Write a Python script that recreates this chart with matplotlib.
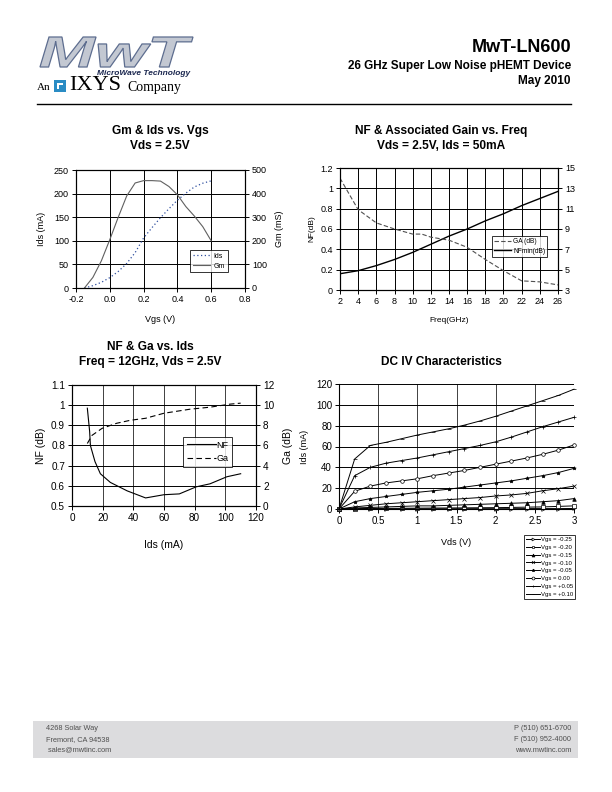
import matplotlib
matplotlib.use('Agg')
import matplotlib.pyplot as plt
from matplotlib.textpath import TextPath
from matplotlib.patches import PathPatch, Rectangle
from matplotlib.font_manager import FontProperties
from matplotlib.transforms import Affine2D

plt.rcParams['font.family'] = ['Liberation Sans', 'DejaVu Sans']

# ---------------- data ----------------
# Chart 1: Gm & Ids vs Vgs
vgs = [-0.15, -0.10, -0.05, 0.00, 0.05, 0.10, 0.15, 0.20, 0.25, 0.30, 0.35, 0.40, 0.45, 0.50, 0.55, 0.60]
ids_vs_vgs = [0, 5, 12, 22, 35, 52, 75, 106, 128, 149, 168, 186, 201, 214, 222, 227]
gm_vs_vgs = [0, 45, 115, 205, 300, 390, 445, 455, 455, 453, 430, 395, 345, 305, 260, 200]

# Chart 2: NF & Associated Gain vs Freq
freq = [2, 4, 6, 8, 10, 12, 14, 16, 18, 20, 22, 24, 26]
nfmin_freq = [0.16, 0.19, 0.24, 0.30, 0.37, 0.45, 0.53, 0.60, 0.68, 0.75, 0.83, 0.90, 0.97]
ga_freq_x = [2, 4, 6, 8, 10, 11, 12, 14, 16, 18, 20, 22, 24, 26]
ga_freq = [14.0, 10.9, 9.6, 9.0, 8.5, 8.5, 8.2, 7.9, 7.2, 6.0, 4.9, 3.9, 3.8, 3.5]

# Chart 3: NF & Ga vs Ids
ids_nf = [10, 11.5, 12, 15, 18.5, 25, 36, 48, 60, 70, 81, 90, 101, 110]
nf_ids = [0.985, 0.87, 0.80, 0.72, 0.66, 0.617, 0.575, 0.54, 0.556, 0.56, 0.595, 0.61, 0.645, 0.66]
ids_ga = [10, 13, 19.6, 29, 38, 48, 60, 77, 90, 103, 110]
ga_ids = [6.2, 7.0, 7.7, 8.2, 8.5, 8.7, 9.2, 9.6, 9.8, 10.1, 10.2]

# Chart 4: DC IV characteristics
vds = [0.0, 0.2, 0.4, 0.6, 0.8, 1.0, 1.2, 1.4, 1.6, 1.8, 2.0, 2.2, 2.4, 2.6, 2.8, 3.0]
iv_labels = ['Vgs = -0.25', 'Vgs = -0.20', 'Vgs = -0.15', 'Vgs = -0.10',
             'Vgs = -0.05', 'Vgs = 0.00', 'Vgs = +0.05', 'Vgs = +0.10']
iv_m025 = [0, 0.1, 0.1, 0.1, 0.2, 0.2, 0.2, 0.2, 0.3, 0.3, 0.3, 0.3, 0.4, 0.4, 0.4, 0.5]
iv_m020 = [0, 0.3, 0.5, 0.6, 0.7, 0.8, 0.9, 1.0, 1.1, 1.2, 1.3, 1.5, 1.8, 2.0, 2.5, 3.0]
iv_m015 = [0, 1, 1.5, 2, 2.5, 3, 3, 3.5, 4, 4.5, 5, 5.5, 6, 7, 8, 10]
iv_m010 = [0, 2, 3.5, 5, 6, 7, 8, 9, 10, 11, 12.5, 13.5, 15, 17.5, 19.5, 22]
iv_m005 = [0, 7, 10, 12, 14, 16, 17.5, 19, 21, 23, 25, 27, 29.5, 32, 35, 39]
iv_p000 = [0, 17, 22, 25, 27, 29, 32, 34.5, 37, 40, 43, 46, 49, 52.5, 56.5, 61.5]
iv_p005 = [0, 32, 40, 44, 46.5, 49, 52, 55, 58, 61, 64.5, 69, 74, 79, 83.5, 88]
iv_p010 = [0, 48, 61, 64, 67.5, 71, 74, 77, 80.5, 84.5, 89, 94, 99, 104, 109, 115]
iv_series = [iv_m025, iv_m020, iv_m015, iv_m010, iv_m005, iv_p000, iv_p005, iv_p010]
iv_markers = ['>', 's', '^', 'x', '*', 'o', '+', '_']
iv_filled = [False, False, True, True, True, False, True, True]

W, H = 612, 792
fig = plt.figure(figsize=(W / 100, H / 100), dpi=100)


def rect(l, r, t, b):
    return [l / W, 1 - b / H, (r - l) / W, (b - t) / H]


def fx(x):
    return x / W


def fy(y):
    return 1 - y / H


def style_axes(ax, tick_fs):
    for s in ax.spines.values():
        s.set_color('black')
        s.set_linewidth(0.8)
    ax.tick_params(direction='out', length=3, width=0.7, labelsize=tick_fs, colors='black', pad=2)
    ax.set_axisbelow(True)


GRID = dict(color='black', linewidth=0.7)
TITLE_FS = 8.6

# ---------------- Chart 1 ----------------
ax1 = fig.add_axes(rect(76, 245, 170, 288))
ax1b = ax1.twinx()
l_ids, = ax1.plot(vgs, ids_vs_vgs, linestyle=(0, (1, 2)), color='#3050a0', linewidth=0.9, label='Ids')
l_gm, = ax1b.plot(vgs, gm_vs_vgs, color='#606060', linewidth=0.8, label='Gm')
ax1.set_xlim(-0.2, 0.8)
ax1.set_ylim(0, 250)
ax1b.set_ylim(0, 500)
ax1.set_xticks([-0.2, 0.0, 0.2, 0.4, 0.6, 0.8])
ax1.set_xticklabels(['-0.2', '0.0', '0.2', '0.4', '0.6', '0.8'])
ax1.set_yticks([0, 50, 100, 150, 200, 250])
ax1b.set_yticks([0, 100, 200, 300, 400, 500])
ax1.grid(True, **GRID)
style_axes(ax1, 6.5)
style_axes(ax1b, 6.5)
ax1.set_xlabel('Vgs (V)', fontsize=6.5, labelpad=8)
ax1.set_ylabel('Ids (mA)', fontsize=6.5, labelpad=6)
ax1b.set_ylabel('Gm (mS)', fontsize=6.5, labelpad=6)
leg1 = ax1b.legend(handles=[l_ids, l_gm], loc='upper left', bbox_to_anchor=(fx(190), fy(250)),
                   bbox_transform=fig.transFigure, fontsize=5, frameon=True, fancybox=False,
                   handlelength=2.5, borderpad=0.4, labelspacing=0.4, handletextpad=0.5, borderaxespad=0)
leg1.get_frame().set_edgecolor('black')
leg1.get_frame().set_linewidth(0.7)
fig.text(fx(160), fy(131), 'Gm & Ids vs. Vgs', ha='center', va='center', fontsize=TITLE_FS, fontweight='bold')
fig.text(fx(160), fy(146), 'Vds = 2.5V', ha='center', va='center', fontsize=TITLE_FS, fontweight='bold')

# ---------------- Chart 2 ----------------
ax2 = fig.add_axes(rect(340, 558, 168, 290))
ax2b = ax2.twinx()
l_ga, = ax2b.plot(ga_freq_x, ga_freq, linestyle=(0, (4, 2)), color='#505050', linewidth=0.8, label='GA (dB)')
l_nf, = ax2.plot(freq, nfmin_freq, color='black', linewidth=1.0, label='NFmin(dB)')
ax2.set_xlim(2, 26)
ax2.set_ylim(0, 1.2)
ax2b.set_ylim(3, 15)
ax2.set_xticks(freq)
ax2.set_yticks([0, 0.2, 0.4, 0.6, 0.8, 1.0, 1.2])
ax2.set_yticklabels(['0', '0.2', '0.4', '0.6', '0.8', '1', '1.2'])
ax2b.set_yticks([3, 5, 7, 9, 11, 13, 15])
ax2.grid(True, **GRID)
style_axes(ax2, 6.5)
style_axes(ax2b, 6.5)
ax2.set_xlabel('Freq(GHz)', fontsize=6, labelpad=8)
ax2.set_ylabel('NF(dB)', fontsize=6, labelpad=4)
leg2 = ax2b.legend(handles=[l_ga, l_nf], loc='upper left', bbox_to_anchor=(fx(492), fy(236)),
                   bbox_transform=fig.transFigure, fontsize=4.8, frameon=True, fancybox=False,
                   handlelength=2.5, borderpad=0.35, labelspacing=0.35, handletextpad=0.3, borderaxespad=0)
leg2.get_frame().set_edgecolor('black')
leg2.get_frame().set_linewidth(0.7)
fig.text(fx(441), fy(131), 'NF & Associated Gain vs. Freq', ha='center', va='center', fontsize=TITLE_FS, fontweight='bold')
fig.text(fx(441), fy(146), 'Vds = 2.5V, Ids = 50mA', ha='center', va='center', fontsize=TITLE_FS, fontweight='bold')

# ---------------- Chart 3 ----------------
ax3 = fig.add_axes(rect(72, 256, 385, 506))
ax3b = ax3.twinx()
l_nf3, = ax3.plot(ids_nf, nf_ids, color='black', linewidth=0.8, label='NF')
l_ga3, = ax3b.plot(ids_ga, ga_ids, linestyle=(0, (5, 3)), color='black', linewidth=0.8, label='Ga')
ax3.set_xlim(0, 120)
ax3.set_ylim(0.5, 1.1)
ax3b.set_ylim(0, 12)
ax3.set_xticks([0, 20, 40, 60, 80, 100, 120])
ax3.set_yticks([0.5, 0.6, 0.7, 0.8, 0.9, 1.0, 1.1])
ax3.set_yticklabels(['0.5', '0.6', '0.7', '0.8', '0.9', '1', '1.1'])
ax3b.set_yticks([0, 2, 4, 6, 8, 10, 12])
ax3.grid(True, **GRID)
ax3.xaxis.grid(True, color='#404040', linewidth=0.7)
style_axes(ax3, 7.2)
style_axes(ax3b, 7.2)
ax3.set_xlabel('Ids (mA)', fontsize=7.5, labelpad=12)
ax3.set_ylabel('NF (dB)', fontsize=7.5, labelpad=4)
ax3b.set_ylabel('Ga (dB)', fontsize=7.5, labelpad=6)
leg3 = ax3b.legend(handles=[l_nf3, l_ga3], loc='upper left', bbox_to_anchor=(fx(183), fy(437)),
                   bbox_transform=fig.transFigure, fontsize=6.5, frameon=True, fancybox=False,
                   handlelength=3.2, borderpad=0.4, labelspacing=0.5, handletextpad=0.1, borderaxespad=0)
leg3.get_frame().set_edgecolor('black')
leg3.get_frame().set_linewidth(0.7)
fig.text(fx(150), fy(347), 'NF & Ga vs. Ids', ha='center', va='center', fontsize=TITLE_FS, fontweight='bold')
fig.text(fx(150), fy(362), 'Freq = 12GHz, Vds = 2.5V', ha='center', va='center', fontsize=TITLE_FS, fontweight='bold')

# ---------------- Chart 4 ----------------
ax4 = fig.add_axes(rect(339, 574, 384, 509))
handles4 = []
for ser, lab, mk, filled in zip(iv_series, iv_labels, iv_markers, iv_filled):
    h, = ax4.plot(vds, ser, color='black', linewidth=0.7, marker=mk, markersize=2.6,
                  markerfacecolor=('black' if filled else 'white'), markeredgecolor='black',
                  markeredgewidth=0.5, label=lab, clip_on=False)
    handles4.append(h)
ax4.set_xlim(0, 3)
ax4.set_ylim(0, 120)
ax4.set_xticks([0, 0.5, 1, 1.5, 2, 2.5, 3])
ax4.set_xticklabels(['0', '0.5', '1', '1.5', '2', '2.5', '3'])
ax4.set_yticks([0, 20, 40, 60, 80, 100, 120])
ax4.grid(True, **GRID)
ax4.xaxis.grid(True, color='#404040', linewidth=0.7)
style_axes(ax4, 7)
ax4.spines['right'].set_visible(False)
ax4.spines['top'].set_visible(False)
ax4.set_xlabel('Vds (V)', fontsize=6.5, labelpad=9)
ax4.set_ylabel('Ids (mA)', fontsize=6.5, labelpad=5)
leg4 = ax4.legend(handles=handles4, loc='upper left', bbox_to_anchor=(fx(524), fy(535)),
                  bbox_transform=fig.transFigure, fontsize=4.3, frameon=True, fancybox=False,
                  handlelength=2.3, borderpad=0.3, labelspacing=0.45, handletextpad=0.3,
                  borderaxespad=0, markerscale=0.8)
leg4.get_frame().set_edgecolor('black')
leg4.get_frame().set_linewidth(0.7)
fig.text(fx(441), fy(362), 'DC IV Characteristics', ha='center', va='center', fontsize=TITLE_FS, fontweight='bold')

# ---------------- header / footer overlay ----------------
ov = fig.add_axes([0, 0, 1, 1])
ov.set_xlim(0, W)
ov.set_ylim(H, 0)
ov.axis('off')
ov.patch.set_visible(False)

fp = FontProperties(family='Liberation Sans', weight='bold', style='italic')
tp = TextPath((0, 0), 'MwT', size=1, prop=fp)
bb = tp.get_extents()
sx = (193 - 40) / bb.width
sy = (67 - 37) / bb.height
tr = Affine2D().translate(-bb.x0, -bb.y0).scale(sx, -sy).translate(40, 67)
logo = PathPatch(tr.transform_path(tp), facecolor='#c3c8d2', edgecolor='#5d6d8f', linewidth=0.9)
ov.add_patch(logo)
ov.text(190, 73.5, 'MicroWave Technology', ha='right', va='center', fontsize=6,
        fontweight='bold', style='italic', color='#1c2850')
ov.text(37, 87, 'An', ha='left', va='center', fontsize=8, family='Liberation Serif')
ov.add_patch(Rectangle((54, 80), 12, 12, facecolor='#2a8cc4', edgecolor='none'))
ov.add_patch(Rectangle((57, 83), 6, 6, facecolor='white', edgecolor='none'))
ov.add_patch(Rectangle((59, 85), 4, 4, facecolor='#2a8cc4', edgecolor='none'))
ov.text(69, 86, 'IXYS', ha='left', va='center', fontsize=16, family='Liberation Serif')
ov.text(127, 88, 'Company', ha='left', va='center', fontsize=10, family='Liberation Serif')

ov.text(571, 47, 'MwT-LN600', ha='right', va='center', fontsize=13, fontweight='bold')
ov.text(571, 66, '26 GHz Super Low Noise pHEMT Device', ha='right', va='center', fontsize=8.5, fontweight='bold')
ov.text(571, 81, 'May 2010', ha='right', va='center', fontsize=8.5, fontweight='bold')
ov.plot([37, 571], [104, 104], color='black', linewidth=1.0)

ov.add_patch(Rectangle((33, 721), 545, 37, facecolor='#dcdcde', edgecolor='none'))
for i, t in enumerate(['4268 Solar Way', 'Fremont, CA 94538', ' sales@mwtinc.com']):
    ov.text(46, 729 + i * 10.5, t, ha='left', va='center', fontsize=5.3, color='#505050')
for i, t in enumerate(['P (510) 651-6700', 'F (510) 952-4000', 'www.mwtinc.com']):
    ov.text(571, 729 + i * 10.5, t, ha='right', va='center', fontsize=5.3, color='#505050')

fig.savefig('out.png', dpi=100)
